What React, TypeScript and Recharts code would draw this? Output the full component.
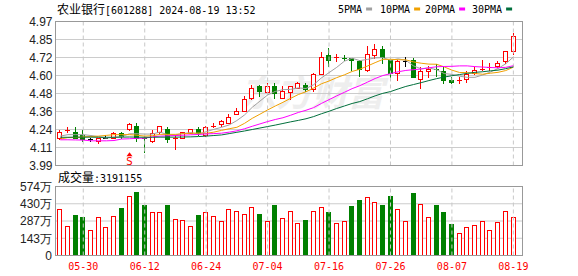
import React from 'react';
import {
  ComposedChart,
  BarChart,
  Bar,
  Line,
  XAxis,
  YAxis,
  CartesianGrid,
  ReferenceLine,
  ReferenceDot,
} from 'recharts';

const dates = [
  '05-27', '05-28', '05-29', '05-30', '05-31', '06-03', '06-04', '06-05', '06-06', '06-07',
  '06-11', '06-12', '06-13', '06-14', '06-17', '06-18', '06-19', '06-20', '06-21', '06-24',
  '06-25', '06-26', '06-27', '06-28', '07-01', '07-02', '07-03', '07-04', '07-05', '07-08',
  '07-09', '07-10', '07-11', '07-12', '07-15', '07-16', '07-17', '07-18', '07-19', '07-22',
  '07-23', '07-24', '07-25', '07-26', '07-29', '07-30', '07-31', '08-01', '08-02', '08-05',
  '08-06', '08-07', '08-08', '08-09', '08-12', '08-13', '08-14', '08-15', '08-16', '08-19',
];

const openP = [
  4.18, 4.23, 4.22, 4.20, 4.17, 4.16, 4.18, 4.18, 4.21, 4.24,
  4.26, 4.18, 4.16, 4.22, 4.24, 4.17, 4.18, 4.21, 4.24, 4.20,
  4.26, 4.27, 4.28, 4.34, 4.36, 4.45, 4.53, 4.49, 4.53, 4.45,
  4.49, 4.52, 4.54, 4.51, 4.61, 4.74, 4.72, 4.72, 4.72, 4.70,
  4.64, 4.74, 4.78, 4.71, 4.62, 4.70, 4.71, 4.58, 4.63, 4.65,
  4.63, 4.57, 4.57, 4.58, 4.62, 4.65, 4.66, 4.67, 4.70, 4.77,
];
const highP = [
  4.23, 4.25, 4.25, 4.23, 4.18, 4.18, 4.20, 4.22, 4.22, 4.28,
  4.28, 4.19, 4.23, 4.26, 4.25, 4.20, 4.22, 4.24, 4.25, 4.26,
  4.28, 4.30, 4.34, 4.38, 4.46, 4.54, 4.54, 4.55, 4.55, 4.53,
  4.53, 4.56, 4.55, 4.62, 4.76, 4.79, 4.75, 4.74, 4.72, 4.71,
  4.80, 4.82, 4.80, 4.73, 4.71, 4.73, 4.72, 4.66, 4.67, 4.68,
  4.66, 4.59, 4.59, 4.63, 4.66, 4.71, 4.69, 4.70, 4.77, 4.89,
];
const lowP = [
  4.17, 4.22, 4.18, 4.16, 4.16, 4.14, 4.18, 4.18, 4.18, 4.23,
  4.16, 4.08, 4.15, 4.21, 4.15, 4.10, 4.18, 4.21, 4.20, 4.19,
  4.25, 4.26, 4.28, 4.34, 4.36, 4.44, 4.46, 4.48, 4.45, 4.45,
  4.44, 4.52, 4.50, 4.50, 4.61, 4.67, 4.70, 4.71, 4.64, 4.60,
  4.63, 4.72, 4.69, 4.57, 4.57, 4.67, 4.59, 4.52, 4.59, 4.60,
  4.55, 4.55, 4.55, 4.56, 4.61, 4.64, 4.64, 4.66, 4.69, 4.75,
];
const closeP = [
  4.22, 4.23, 4.18, 4.17, 4.17, 4.18, 4.18, 4.21, 4.19, 4.27,
  4.18, 4.17, 4.21, 4.26, 4.17, 4.18, 4.22, 4.24, 4.21, 4.25,
  4.26, 4.29, 4.32, 4.36, 4.44, 4.52, 4.50, 4.53, 4.48, 4.50,
  4.53, 4.55, 4.51, 4.61, 4.73, 4.71, 4.73, 4.72, 4.71, 4.65,
  4.75, 4.78, 4.73, 4.62, 4.70, 4.70, 4.59, 4.63, 4.65, 4.64,
  4.57, 4.56, 4.57, 4.61, 4.64, 4.65, 4.66, 4.69, 4.77, 4.87,
];

const ma5 = [
  4.19, 4.20, 4.20, 4.20, 4.194, 4.186, 4.176, 4.182, 4.186, 4.206,
  4.206, 4.204, 4.204, 4.218, 4.198, 4.198, 4.208, 4.214, 4.204, 4.22,
  4.236, 4.25, 4.266, 4.296, 4.334, 4.386, 4.428, 4.47, 4.494, 4.506,
  4.508, 4.518, 4.514, 4.54, 4.586, 4.622, 4.658, 4.70, 4.72, 4.704,
  4.712, 4.722, 4.724, 4.706, 4.716, 4.706, 4.668, 4.648, 4.654, 4.642,
  4.616, 4.61, 4.598, 4.59, 4.59, 4.606, 4.626, 4.65, 4.682, 4.728,
];
const ma10 = [
  4.17, 4.18, 4.18, 4.185, 4.187, 4.19, 4.195, 4.20, 4.20, 4.20,
  4.196, 4.19, 4.193, 4.202, 4.202, 4.202, 4.206, 4.209, 4.211, 4.209,
  4.217, 4.229, 4.24, 4.25, 4.277, 4.311, 4.339, 4.368, 4.395, 4.42,
  4.447, 4.473, 4.492, 4.517, 4.546, 4.565, 4.588, 4.607, 4.63, 4.645,
  4.667, 4.69, 4.712, 4.713, 4.71, 4.709, 4.695, 4.686, 4.68, 4.679,
  4.661, 4.639, 4.623, 4.622, 4.616, 4.611, 4.618, 4.624, 4.636, 4.659,
];
const ma20 = [
  4.165, 4.165, 4.164, 4.163, 4.158, 4.158, 4.158, 4.16, 4.17, 4.172,
  4.175, 4.176, 4.185, 4.19, 4.192, 4.194, 4.196, 4.199, 4.201, 4.205,
  4.207, 4.21, 4.217, 4.226, 4.24, 4.257, 4.273, 4.289, 4.303, 4.315,
  4.332, 4.351, 4.366, 4.384, 4.412, 4.438, 4.464, 4.488, 4.513, 4.533,
  4.557, 4.582, 4.602, 4.615, 4.628, 4.637, 4.642, 4.647, 4.655, 4.662,
  4.664, 4.665, 4.668, 4.668, 4.663, 4.66, 4.657, 4.655, 4.658, 4.669,
];
const ma30 = [
  4.182, 4.182, 4.183, 4.183, 4.183, 4.182, 4.182, 4.182, 4.183, 4.184,
  4.183, 4.182, 4.182, 4.183, 4.183, 4.183, 4.184, 4.185, 4.187, 4.19,
  4.194, 4.198, 4.207, 4.216, 4.225, 4.235, 4.245, 4.255, 4.265, 4.276,
  4.287, 4.297, 4.308, 4.323, 4.342, 4.359, 4.378, 4.395, 4.412, 4.425,
  4.444, 4.464, 4.481, 4.493, 4.511, 4.528, 4.541, 4.554, 4.568, 4.581,
  4.592, 4.601, 4.609, 4.617, 4.624, 4.628, 4.634, 4.639, 4.649, 4.661,
];

// volume in 万 (10k shares)
const volume = [
  388, 247, 333, 324, 213, 322, 238, 330, 399, 499,
  532, 416, 363, 363, 424, 305, 297, 247, 341, 363,
  330, 288, 388, 372, 347, 405, 349, 288, 424, 313,
  374, 272, 299, 372, 405, 358, 272, 288, 408, 458,
  488, 446, 424, 491, 388, 288, 516, 430, 324, 416,
  358, 258, 189, 238, 255, 288, 214, 280, 372, 319,
];

const tickDates = ['05-30', '06-12', '06-24', '07-04', '07-16', '07-26', '08-07', '08-19'];
const priceTicks = [3.99, 4.1125, 4.235, 4.3575, 4.48, 4.6025, 4.725, 4.8475, 4.97];
const priceTickLabels = ['3.99', '4.11', '4.24', '4.36', '4.48', '4.60', '4.72', '4.85', '4.97'];
const volTicks = [0, 143.5, 287, 430.5, 574];
const volTickLabels = ['0', '143万', '287万', '430万', '574万'];
const signals = [{ date: '06-07', label: 'S' }];
const maLegend = [
  { name: '5PMA', key: 'ma5', color: '#a0a0a0' },
  { name: '10PMA', key: 'ma10', color: '#f0a000' },
  { name: '20PMA', key: 'ma20', color: '#ff00ff' },
  { name: '30PMA', key: 'ma30', color: '#006f3c' },
];

const rows = dates.map((d, i) => ({
  date: d,
  open: openP[i],
  high: highP[i],
  low: lowP[i],
  close: closeP[i],
  prevClose: i > 0 ? closeP[i - 1] : null,
  range: [lowP[i], highP[i]],
  ma5: ma5[i],
  ma10: ma10[i],
  ma20: ma20[i],
  ma30: ma30[i],
  vol: volume[i],
}));

const RED = '#ff0000';
const GREEN = '#008000';
const BLACK = '#000000';

const W = 578;
const LEFT = 56;
const RIGHT = 56;
const XPAD = { left: 0.4, right: 4.8 };

function Candle(props: any) {
  const { x, y, width, height, payload } = props;
  if (x == null || payload == null) return null;
  const { open, close, high, low, prevClose } = payload;
  const top = Math.min(y, y + height);
  const bot = Math.max(y, y + height);
  const pix = (v: number) => (high === low ? top : top + ((high - v) / (high - low)) * (bot - top));
  let color = RED;
  if (close > open) color = RED;
  else if (close < open) color = GREEN;
  else if (prevClose == null || close > prevClose) color = RED;
  else if (close < prevClose) color = GREEN;
  else color = BLACK;
  const c = Math.floor(x + width / 2);
  const wx = c + 0.5;
  const yh = Math.round(pix(high));
  const yl = Math.round(pix(low));
  const yo = Math.round(pix(Math.max(open, close)));
  const yc = Math.round(pix(Math.min(open, close)));
  const items: any[] = [];
  items.push(<line key="w" x1={wx} x2={wx} y1={yh} y2={yl + 1} stroke={color} strokeWidth={1} />);
  if (yc - yo <= 1) {
    items.push(<line key="d" x1={c - 2} x2={c + 3} y1={yo + 0.5} y2={yo + 0.5} stroke={color} strokeWidth={1} />);
  } else if (close > open) {
    items.push(
      <rect key="b" x={c - 1.5} y={yo + 0.5} width={4} height={yc - yo} fill="#ffffff" stroke={color} strokeWidth={1} />
    );
  } else {
    items.push(<rect key="b" x={c - 2} y={yo} width={5} height={yc - yo + 1} fill={color} />);
  }
  return <g>{items}</g>;
}

function VolBar(props: any) {
  const { x, y, width, height, payload } = props;
  if (x == null || payload == null) return null;
  const c = Math.floor(x + width / 2);
  const top = Math.round(Math.min(y, y + height));
  const bot = Math.round(Math.max(y, y + height));
  if (payload.close >= payload.open) {
    return <rect x={c - 1.5} y={top + 0.5} width={4} height={Math.max(bot - top - 1, 0)} fill="#ffffff" stroke={RED} strokeWidth={1} />;
  }
  return <rect x={c - 2} y={top} width={5} height={bot - top} fill={GREEN} />;
}

function SignalMark(props: any) {
  const { cx, cy } = props;
  if (cx == null) return null;
  const c = Math.floor(cx) + 0.5;
  return (
    <g>
      <polygon points={`${c - 3},${cy + 1} ${c + 3},${cy + 1} ${c},${cy - 3}`} fill={RED} />
      <text x={c} y={cy + 9.5} textAnchor="middle" fontSize={10} fill={RED} fontFamily="DejaVu Sans, sans-serif">
        S
      </text>
    </g>
  );
}

function DateTick(p: any) {
  return (
    <text
      x={p.x}
      y={p.y + 10.5}
      textAnchor="middle"
      dominantBaseline="central"
      fill={RED}
      fontSize={10}
      fontFamily="DejaVu Sans Mono, monospace"
    >
      {p.payload.value}
    </text>
  );
}

const axisTickStyle = { fill: '#222', fontSize: 12, fontFamily: 'Liberation Sans, Arial, sans-serif' };

export default function App() {
  return (
    <div style={{ position: 'absolute', left: 0, top: 0, width: W, height: 276, background: '#fff', overflow: 'hidden' }}>
      <svg width={W} height={276} style={{ position: 'absolute', left: 0, top: 0 }}>
        <text x={240} y={106} fontSize={36} fontWeight="bold" fontStyle="italic" fill="#eeeeee" fontFamily="Noto Sans CJK SC, sans-serif">
          东方财富
        </text>
      </svg>

      <div style={{ position: 'absolute', left: 0, top: 0 }}>
        <ComposedChart width={W} height={176} data={rows} margin={{ top: 21.5, right: RIGHT, bottom: 10.5, left: 0 }}>
          <CartesianGrid vertical={false} stroke="#cccccc" />
          <XAxis dataKey="date" hide padding={XPAD} />
          <YAxis
            width={LEFT}
            domain={[3.99, 4.97]}
            ticks={priceTicks}
            interval={0}
            allowDataOverflow
            axisLine={false}
            tickLine={false}
            tickSize={0}
            tickMargin={3.5}
            tick={axisTickStyle}
            tickFormatter={(v: any, i: number) => priceTickLabels[i]}
          />
          {tickDates.map((d) => (
            <ReferenceLine key={d} x={d} stroke="#c8c8c8" strokeDasharray="4 3" />
          ))}
          <Bar dataKey="range" barSize={5} shape={<Candle />} isAnimationActive={false} />
          {maLegend.map((m) => (
            <Line key={m.key} dataKey={m.key} stroke={m.color} strokeWidth={1} dot={false} isAnimationActive={false} />
          ))}
          {signals.map((s) => (
            <ReferenceDot key={s.date} x={s.date} y={4.06} shape={<SignalMark />} />
          ))}
        </ComposedChart>
      </div>

      <div style={{ position: 'absolute', left: 0, top: 170 }}>
        <BarChart width={W} height={106} data={rows} margin={{ top: 16.5, right: RIGHT, bottom: 0.5, left: 0 }}>
          <CartesianGrid vertical={false} stroke="#cccccc" />
          <XAxis
            dataKey="date"
            padding={XPAD}
            ticks={tickDates}
            interval={0}
            height={20}
            axisLine={false}
            tickLine={false}
            tickSize={0}
            tickMargin={0}
            tick={<DateTick />}
          />
          <YAxis
            width={LEFT}
            domain={[0, 574]}
            ticks={volTicks}
            interval={0}
            allowDataOverflow
            axisLine={false}
            tickLine={false}
            tickSize={0}
            tickMargin={4}
            tick={axisTickStyle}
            tickFormatter={(v: any, i: number) => volTickLabels[i]}
          />
          {tickDates.map((d) => (
            <ReferenceLine key={d} x={d} stroke="#c8c8c8" strokeDasharray="4 3" />
          ))}
          <Bar dataKey="vol" barSize={5} shape={<VolBar />} isAnimationActive={false} />
        </BarChart>
      </div>

      <svg width={W} height={276} style={{ position: 'absolute', left: 0, top: 0, pointerEvents: 'none' }}>
        <rect x={55.5} y={21.5} width={467} height={144} fill="none" stroke="#999999" strokeWidth={1} />
        <rect x={55.5} y={186.5} width={467} height={69} fill="none" stroke="#999999" strokeWidth={1} />
        <text x={57} y={14} fill="#000" fontSize={12}>
          <tspan fontFamily="Noto Sans CJK SC, sans-serif" fontSize={12}>农业银行</tspan>
          <tspan fontFamily="DejaVu Sans Mono, monospace" fontSize={10}>[601288] 2024-08-19 13:52</tspan>
        </text>
        <text x={58} y={182} fill="#000" fontSize={12}>
          <tspan fontFamily="Noto Sans CJK SC, sans-serif" fontSize={12}>成交量</tspan>
          <tspan fontFamily="DejaVu Sans Mono, monospace" fontSize={10}>:3191155</tspan>
        </text>
        {maLegend.map((m, i) => {
          const xs = [338, 380, 425, 472][i];
          const tw = m.name.length * 6.02;
          return (
            <g key={m.key}>
              <text x={xs} y={12.5} fontSize={10} fill="#000" fontFamily="DejaVu Sans Mono, monospace">
                {m.name}
              </text>
              <rect x={xs + tw + 4} y={7.5} width={6} height={3} fill={m.color} />
            </g>
          );
        })}
      </svg>
    </div>
  );
}
